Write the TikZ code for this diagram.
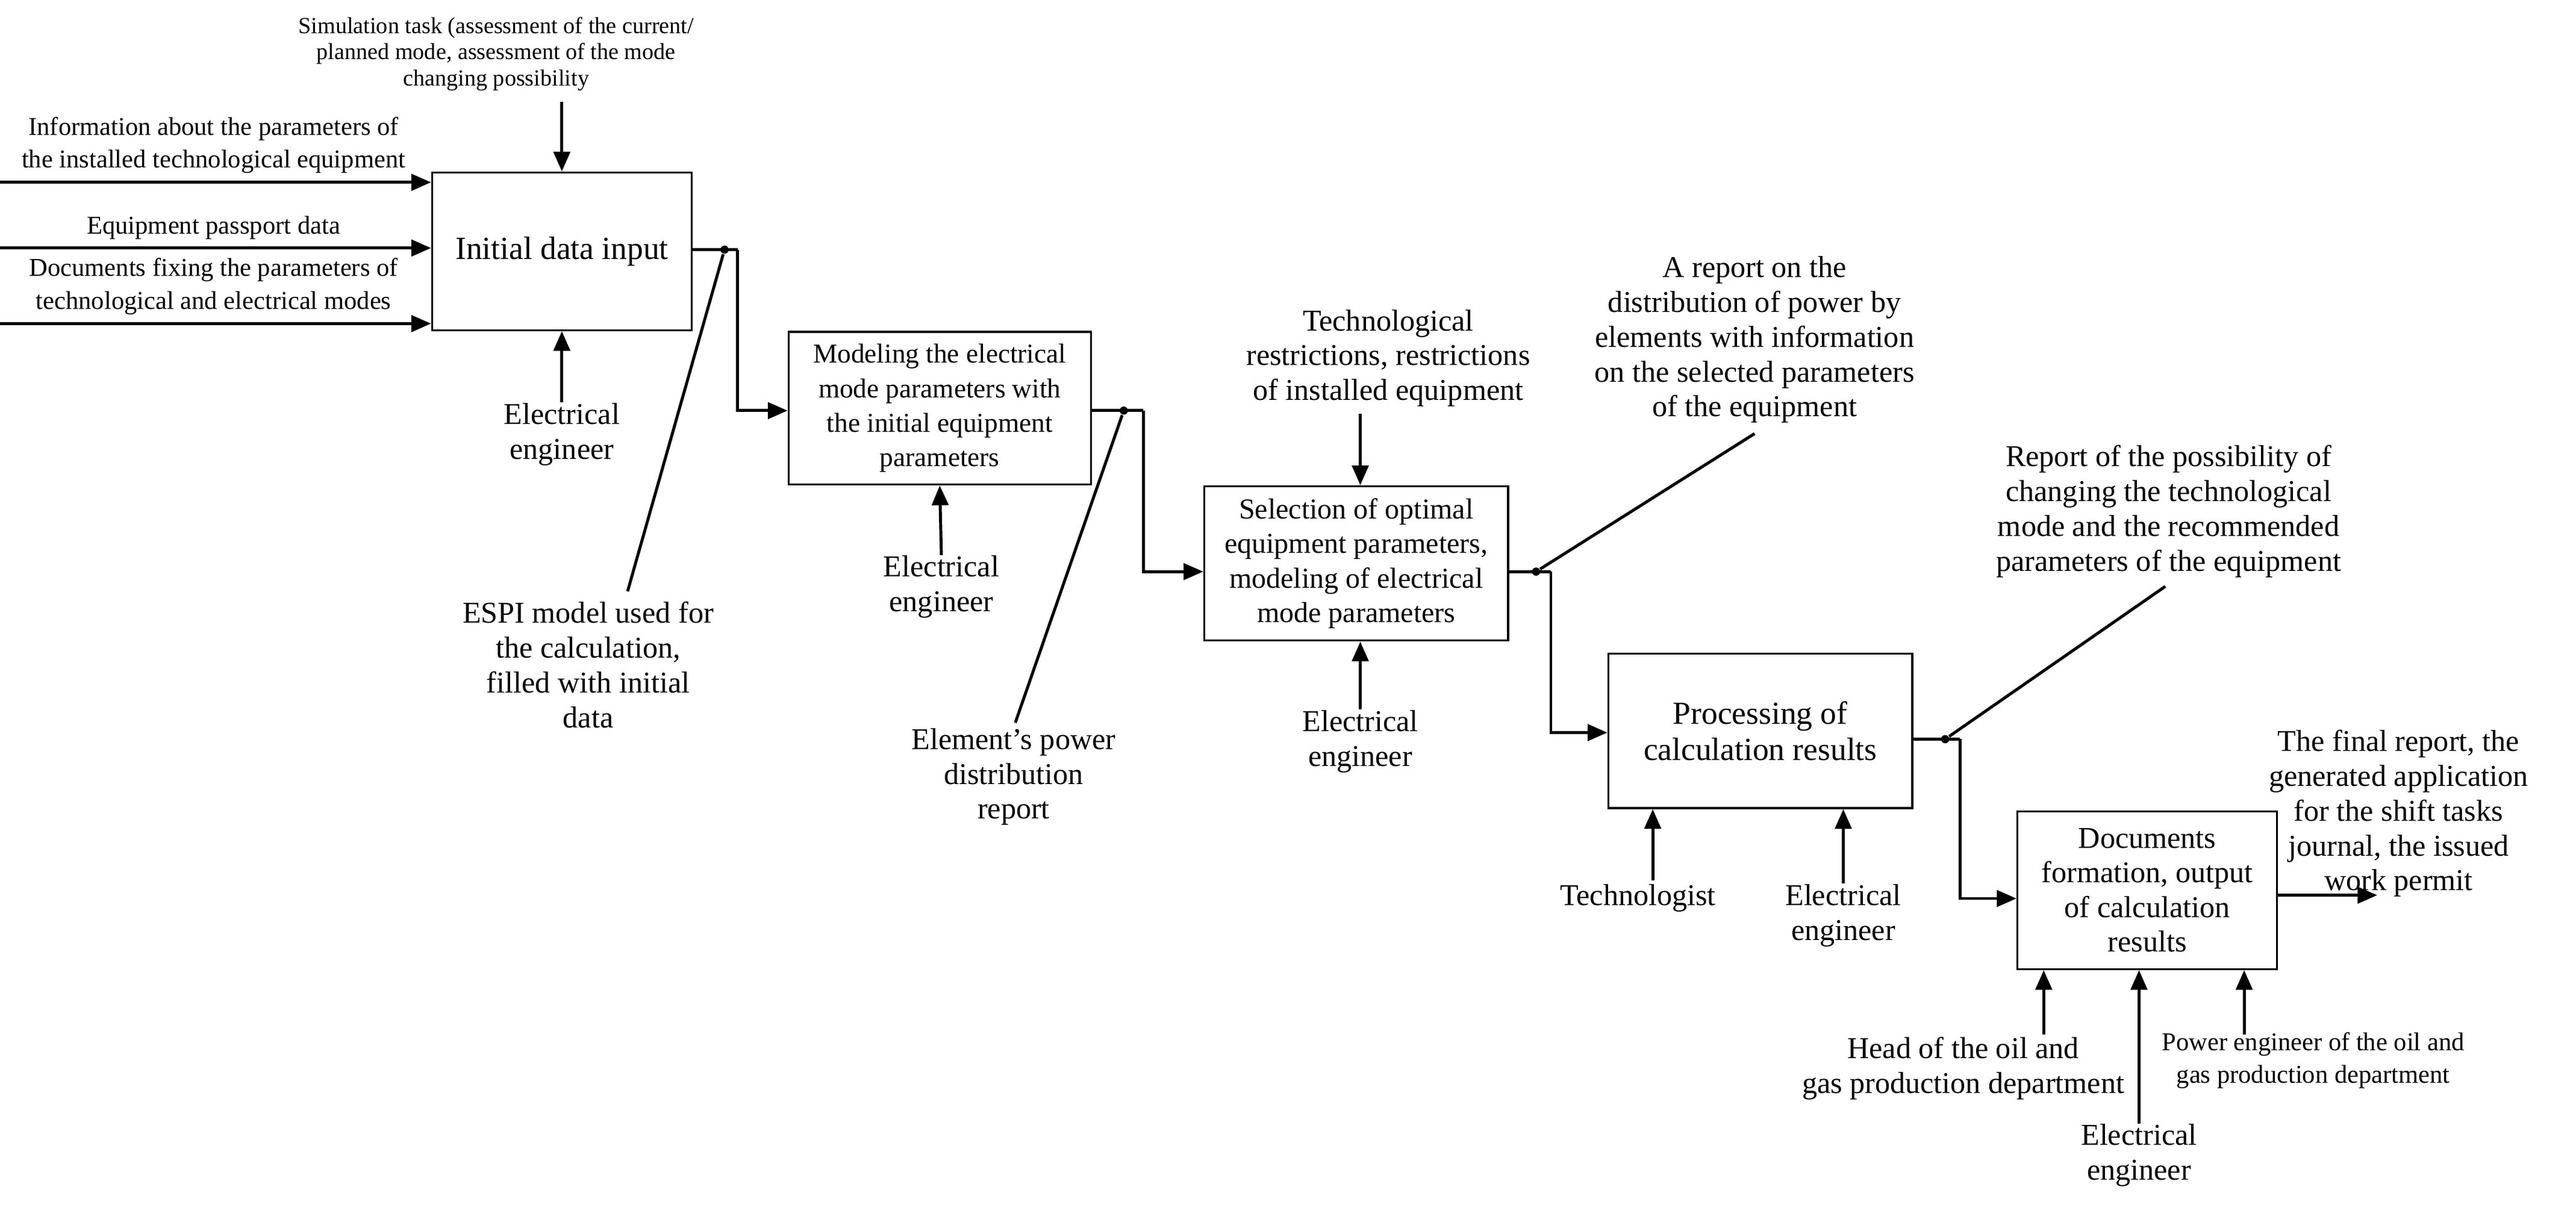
\documentclass[tikz,border=0pt]{standalone}
\usepackage{fontspec}
\setmainfont{Liberation Serif}
\usetikzlibrary{arrows.meta}
\begin{document}
\begin{tikzpicture}[x=0.5pt,y=-0.5pt,
  box/.style={draw,line width=0.6pt,inner sep=0pt,align=center},
  arr/.style={line width=0.9pt,-{Triangle[length=6pt,width=5pt]}},
  ln/.style={line width=0.9pt},
  lbl/.style={align=center,font=\fontsize{9.2}{10.6}\selectfont,inner sep=0pt,anchor=north},
  sml/.style={align=center,font=\fontsize{7.8}{10}\selectfont,inner sep=0pt},
  dot/.style={circle,fill,inner sep=0pt,minimum size=2.5pt}]
\useasboundingbox (0,0) rectangle (1568,737);
% boxes
\node[box,minimum width=79pt,minimum height=48pt,font=\fontsize{9.8}{11}\selectfont] (b1) at (342,153) {Initial data input};
\node[box,minimum width=92pt,minimum height=46.5pt,font=\fontsize{8.3}{10.5}\selectfont] (b2) at (572,248.5) {Modeling the electrical\\mode parameters with\\the initial equipment\\parameters};
\node[box,minimum width=92.5pt,minimum height=47pt,font=\fontsize{8.8}{10.5}\selectfont] (b3) at (825.5,343) {Selection of optimal\\equipment parameters,\\modeling of electrical\\mode parameters};
\node[box,minimum width=92.5pt,minimum height=47pt,font=\fontsize{9.8}{11}\selectfont] (b4) at (1071.5,445) {Processing of\\calculation results};
\node[box,minimum width=79pt,minimum height=48pt,font=\fontsize{9.2}{10.5}\selectfont] (b5) at (1307,542) {Documents\\formation, output\\of calculation\\results};
% inputs to b1
\coordinate (i1) at (0,111); \coordinate (i2) at (0,151); \coordinate (i3) at (0,197);
\draw[arr] (i1) -- (b1.west |- i1);
\draw[arr] (i2) -- (b1.west |- i2);
\draw[arr] (i3) -- (b1.west |- i3);
\node[sml,anchor=south] (t1) at (130,106) {Information about the parameters of\\the installed technological equipment};
\node[sml,anchor=south] (t2) at (130,146) {Equipment passport data};
\node[sml,anchor=south] (t3) at (130,192) {Documents fixing the parameters of\\technological and electrical modes};
% controls b1
\node[align=center,inner sep=0pt,font=\fontsize{7}{8}\selectfont,anchor=north] (sim) at (302,10) {Simulation task (assessment of the current/\\planned mode, assessment of the mode\\changing possibility};
\coordinate (c1) at (342,62);
\draw[arr] (c1) -- (b1.north);
\node[lbl] (e1) at (342,245) {Electrical\\engineer};
\draw[arr] (e1.north) -- (b1.south);
% b1 -> b2
\coordinate (k1) at (449,152);
\draw[ln] (b1.east |- k1) -- (k1);
\draw[arr] (k1) |- (b2.west |- 0,250);
\node[dot] (d1) at (441,152) {};
\node[lbl] (espi) at (358,366) {ESPI model used for\\the calculation,\\filled with initial\\data};
\draw[ln] (d1) -- (382,360);
% b2
\node[lbl] (e2) at (573,338) {Electrical\\engineer};
\draw[arr] (e2.north) -- (b2.south);
\coordinate (k2) at (696,250);
\draw[ln] (b2.east |- k2) -- (k2);
\draw[arr] (k2) |- (b3.west |- 0,348);
\node[dot] (d2) at (684,250) {};
\node[lbl] (epd) at (617,443) {Element’s power\\distribution\\report};
\draw[ln] (d2) -- (618,440);
% b3
\node[lbl,anchor=south] (tr) at (845,248) {Technological\\restrictions, restrictions\\of installed equipment};
\draw[arr] (828,252) -- (b3.north -| 828,0);
\node[lbl] (e3) at (828,432) {Electrical\\engineer};
\draw[arr] (e3.north) -- (b3.south -| e3.north);
\coordinate (k3) at (944,348);
\draw[ln] (b3.east |- k3) -- (k3);
\draw[arr] (k3) |- (b4.west |- 0,446);
\node[dot] (d3) at (935,348) {};
\node[lbl,anchor=south] (rep1) at (1068,258) {A report on the\\distribution of power by\\elements with information\\on the selected parameters\\of the equipment};
\draw[ln] (d3) -- (1068,264);
% b4
\node[lbl] (tech) at (997,538) {Technologist};
\draw[arr] (1006,536) -- (b4.south -| 1006,0);
\node[lbl] (e4) at (1122,538) {Electrical\\engineer};
\draw[arr] (e4.north) -- (b4.south -| e4.north);
\coordinate (k4) at (1193,450);
\draw[ln] (b4.east |- k4) -- (k4);
\draw[arr] (k4) |- (b5.west |- 0,547);
\node[dot] (d4) at (1184,450) {};
\node[lbl,anchor=south] (rep2) at (1320,352) {Report of the possibility of\\changing the technological\\mode and the recommended\\parameters of the equipment};
\draw[ln] (d4) -- (1318,357);
% b5
\coordinate (o5) at (1447,545);
\draw[arr] (b5.east |- o5) -- (o5);
\node[lbl] (fin) at (1460,444) {The final report, the\\generated application\\for the shift tasks\\journal, the issued\\work permit};
\node[lbl] (head) at (1195,631) {Head of the oil and\\gas production department};
\draw[arr] (1244,630) -- (b5.south -| 1244,0);
\node[lbl] (e5) at (1302,684) {Electrical\\engineer};
\draw[arr] (e5.north) -- (b5.south -| e5.north);
\node[sml,anchor=north] (pow) at (1408,628) {Power engineer of the oil and\\gas production department};
\draw[arr] (1366,630) -- (b5.south -| 1366,0);
\end{tikzpicture}
\end{document}
